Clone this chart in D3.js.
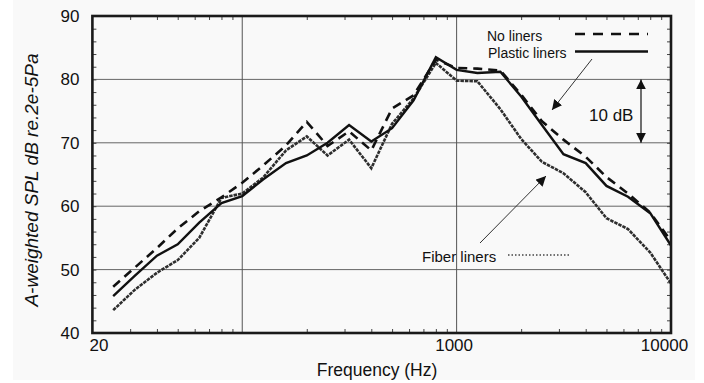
<!DOCTYPE html>
<html><head><meta charset="utf-8">
<script src="https://cdn.jsdelivr.net/npm/d3@7"></script>
<style>
html,body{margin:0;padding:0;background:#fff;}
svg{display:block;font-family:"Liberation Sans",Arial,sans-serif;}
</style></head>
<body>
<svg id="chart" width="704" height="383"></svg>
<script>
const freqs = [25,31.5,40,50,63,80,100,125,160,200,250,315,400,500,630,800,1000,1250,1600,2000,2500,3150,4000,5000,6300,8000,10000];
const noLiners = [47.3,50.3,53.4,56.5,59.2,61.4,63.7,66.4,69.6,73.3,69.5,71.8,68.8,75.4,77.5,83.1,81.8,81.7,81.4,77.6,73.4,70.5,67.8,64.6,62.0,59.0,54.5];
const plasticLiners = [45.8,49.0,52.2,54.0,57.4,60.5,61.6,64.2,66.8,68.0,70.0,72.8,70.2,72.3,76.7,83.5,81.5,81.0,81.2,77.3,72.8,68.2,66.8,63.2,61.5,58.9,53.8];
const fiberLiners = [43.6,46.8,49.5,51.5,55.0,61.3,62.0,64.5,68.8,71.0,68.0,70.5,66.0,73.0,77.0,82.6,79.8,79.7,75.3,70.6,67.0,65.2,62.2,58.1,56.4,52.7,47.8];
const xTickLabels = [20,1000,10000];
const xGridValues = [100,1000];
const yTickValues = [40,50,60,70,80,90];
const seriesNames = ["No liners","Plastic liners","Fiber liners"];
const xTitle = "Frequency (Hz)";
const yTitle = "A-weighted SPL dB re.2e-5Pa";
const bracketLabel = "10 dB";

const svg = d3.select("#chart");
const L = 92.4, R = 671, T = 16, B = 333;
const x = d3.scaleLog().domain([20,10000]).range([L,R]);
const y = d3.scaleLinear().domain([40,90]).range([B,T]);

// background panel
svg.append("rect").attr("x",13).attr("y",0).attr("width",682).attr("height",380).attr("fill","#f9f9f9");

// grid
const g = svg.append("g");
g.selectAll(".hg").data([50,60,70,80]).join("line")
  .attr("x1",L).attr("x2",R).attr("y1",d=>y(d)).attr("y2",d=>y(d))
  .attr("stroke","#666").attr("stroke-width",1);
g.selectAll(".vg").data(xGridValues).join("line")
  .attr("y1",T).attr("y2",B).attr("x1",d=>x(d)).attr("x2",d=>x(d))
  .attr("stroke","#555").attr("stroke-width",1);

// minor ticks
const minorX = [];
[10,100,1000].forEach(dec=>{for(let k=2;k<=9;k++){const v=dec*k; if(v>20&&v<10000) minorX.push(v);}});
const minorY = d3.range(42,90,2);
const bottomAxis = d3.axisBottom(x).tickValues(minorX).tickSize(-4).tickFormat("");
const topAxis = d3.axisTop(x).tickValues(minorX).tickSize(-4).tickFormat("");
const leftAxis = d3.axisLeft(y).tickValues(minorY).tickSize(-4).tickFormat("");
const rightAxis = d3.axisRight(y).tickValues(minorY).tickSize(-4).tickFormat("");
[[bottomAxis,`translate(0,${B})`],[topAxis,`translate(0,${T})`],[leftAxis,`translate(${L},0)`],[rightAxis,`translate(${R},0)`]].forEach(([ax,tr])=>{
  const a = svg.append("g").attr("transform",tr).call(ax);
  a.select(".domain").remove();
  a.selectAll("line").attr("stroke","#444").attr("stroke-width",1);
});

// tick labels
const yl = svg.append("g").attr("transform",`translate(${L},0)`)
  .call(d3.axisLeft(y).tickValues(yTickValues).tickSize(0).tickPadding(13));
yl.select(".domain").remove();
yl.selectAll("text").attr("font-size",17).attr("font-family","Liberation Sans, Arial, sans-serif").attr("fill","#111");

const xOff = {20:6,1000:-3,10000:-7};
const xl = svg.append("g").attr("transform",`translate(0,${B})`)
  .call(d3.axisBottom(x).tickValues(xTickLabels).tickSize(0).tickPadding(6).tickFormat(d3.format("d")));
xl.select(".domain").remove();
xl.selectAll("text").attr("font-size",17).attr("font-family","Liberation Sans, Arial, sans-serif").attr("fill","#111")
  .attr("dx",d=>xOff[d]);

// titles
svg.append("text").attr("x",377).attr("y",376).attr("text-anchor","middle")
  .attr("font-size",17.5).attr("fill","#111").text(xTitle);
svg.append("text").attr("transform","translate(38,180) rotate(-90)").attr("text-anchor","middle")
  .attr("font-size",19).attr("font-style","italic").attr("fill","#111").text(yTitle);

// series
const line = d3.line().x(d=>x(d[0])).y(d=>y(d[1]));
const zip = arr => freqs.map((f,i)=>[f,arr[i]]);
svg.append("path").datum(zip(fiberLiners)).attr("d",line).attr("fill","none")
  .attr("stroke","#2e2e2e").attr("stroke-width",2.6).attr("stroke-dasharray","3.5,1");
svg.append("path").datum(zip(noLiners)).attr("d",line).attr("fill","none")
  .attr("stroke","#111").attr("stroke-width",2.6).attr("stroke-dasharray","9,6");
svg.append("path").datum(zip(plasticLiners)).attr("d",line).attr("fill","none")
  .attr("stroke","#111").attr("stroke-width",2.4);

// frame
svg.append("rect").attr("x",L).attr("y",T).attr("width",R-L).attr("height",B-T)
  .attr("fill","none").attr("stroke","#1a1a1a").attr("stroke-width",2.6);

// legend
const leg = svg.append("g").attr("font-size",14).attr("fill","#111");
leg.append("text").attr("x",487).attr("y",41).text(seriesNames[0]);
leg.append("text").attr("x",488).attr("y",58).text(seriesNames[1]);
leg.append("line").attr("x1",575).attr("x2",648).attr("y1",34).attr("y2",34)
  .attr("stroke","#111").attr("stroke-width",2.6).attr("stroke-dasharray","10,8");
leg.append("line").attr("x1",575).attr("x2",648).attr("y1",51.5).attr("y2",51.5)
  .attr("stroke","#111").attr("stroke-width",2.6);
leg.append("text").attr("x",422).attr("y",262).attr("font-size",15).text(seriesNames[2]);
leg.append("line").attr("x1",508).attr("x2",570).attr("y1",255).attr("y2",255)
  .attr("stroke","#444").attr("stroke-width",1.6).attr("stroke-dasharray","1.5,2");

// arrows
const defs = svg.append("defs");
defs.append("marker").attr("id","ah").attr("viewBox","0 0 10 10").attr("refX",10).attr("refY",5)
  .attr("markerWidth",10).attr("markerHeight",10).attr("markerUnits","userSpaceOnUse").attr("orient","auto-start-reverse")
  .append("path").attr("d","M0,0 L10,5 L0,10 Z").attr("fill","#111");
svg.append("line").attr("x1",592).attr("y1",59).attr("x2",552).attr("y2",110)
  .attr("stroke","#333").attr("stroke-width",1).attr("marker-end","url(#ah)");
svg.append("line").attr("x1",480).attr("y1",243).attr("x2",546).attr("y2",176)
  .attr("stroke","#333").attr("stroke-width",1).attr("marker-end","url(#ah)");
svg.append("line").attr("x1",641).attr("y1",y(80)).attr("x2",641).attr("y2",y(70))
  .attr("stroke","#111").attr("stroke-width",1.2).attr("marker-start","url(#ah)").attr("marker-end","url(#ah)");
svg.append("text").attr("x",589).attr("y",121).attr("font-size",17).attr("fill","#111").text(bracketLabel);
</script>
</body></html>
